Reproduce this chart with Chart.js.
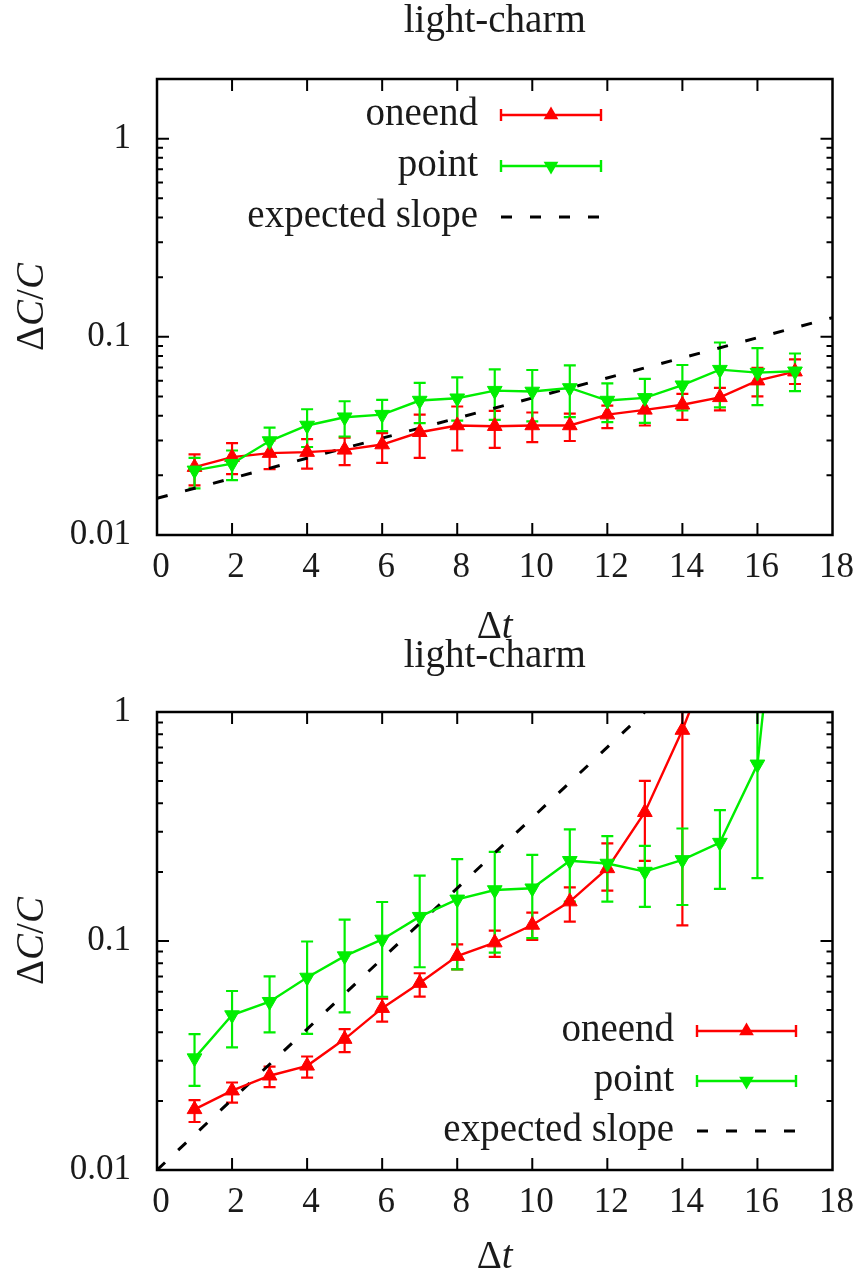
<!DOCTYPE html>
<html>
<head>
<meta charset="utf-8">
<title>light-charm</title>
<script src="https://cdn.jsdelivr.net/npm/chart.js@4.4.0/dist/chart.umd.min.js"></script>
<style>
  body { margin: 0; background: #fff; }
  canvas { display: block; }
</style>
</head>
<body>
<canvas id="chartTop" width="862" height="639"></canvas>
<canvas id="chartBottom" width="862" height="639"></canvas>
<script>
// axes
const xTickValues = [0, 2, 4, 6, 8, 10, 12, 14, 16, 18];
const yTickValues = [0.01, 0.1, 1];
const yTickLabels = ['0.01', '0.1', '1'];

// top panel
const dtTop = [1, 2, 3, 4, 5, 6, 7, 8, 9, 10, 11, 12, 13, 14, 15, 16, 17];
const oneendTop = [0.0220, 0.0247, 0.0259, 0.0262, 0.0269, 0.0286, 0.0330, 0.0357, 0.0354, 0.0357, 0.0357, 0.0405, 0.0428, 0.0454, 0.0495, 0.0601, 0.0667];
const oneendTopHi = [0.0255, 0.0291, 0.0300, 0.0305, 0.0310, 0.0327, 0.0405, 0.0445, 0.0423, 0.0415, 0.0410, 0.0450, 0.0495, 0.0515, 0.0552, 0.0697, 0.0770];
const oneendTopLo = [0.0178, 0.0203, 0.0215, 0.0216, 0.0225, 0.0231, 0.0245, 0.0267, 0.0275, 0.0294, 0.0298, 0.0346, 0.0357, 0.0381, 0.0425, 0.0501, 0.0578];
const pointTop = [0.0212, 0.0229, 0.0298, 0.0357, 0.0393, 0.0405, 0.0477, 0.0490, 0.0535, 0.0530, 0.0552, 0.0477, 0.0492, 0.0570, 0.0683, 0.0660, 0.0670];
const pointTopHi = [0.0245, 0.0267, 0.0348, 0.0431, 0.0473, 0.0481, 0.0585, 0.0625, 0.0685, 0.0680, 0.0718, 0.0582, 0.0613, 0.0721, 0.0936, 0.0877, 0.0824];
const pointTopLo = [0.0172, 0.0189, 0.0255, 0.0278, 0.0314, 0.0334, 0.0367, 0.0378, 0.0381, 0.0374, 0.0393, 0.0371, 0.0368, 0.0425, 0.0441, 0.0452, 0.0532];
const slopeTopX = [0, 18];
const slopeTopY = [0.0153, 0.125];

// bottom panel
const dtBottom = [1, 2, 3, 4, 5, 6, 7, 8, 9, 10, 11, 12, 13, 14, 15, 16, 17];
const oneendBottom = [0.0184, 0.0222, 0.0258, 0.0285, 0.0373, 0.0509, 0.0655, 0.0859, 0.0984, 0.1175, 0.1486, 0.2075, 0.365, 0.834, 2.2];
const oneendBottomHi = [0.0202, 0.0241, 0.0283, 0.0313, 0.0412, 0.0560, 0.0723, 0.0967, 0.111, 0.133, 0.1715, 0.267, 0.50, 2.5, 4.0];
const oneendBottomLo = [0.0162, 0.0197, 0.0230, 0.0253, 0.0327, 0.0445, 0.0572, 0.0752, 0.0853, 0.101, 0.1215, 0.166, 0.224, 0.117, 1.2];
const pointBottom = [0.0308, 0.0475, 0.0543, 0.0693, 0.0859, 0.1016, 0.1277, 0.152, 0.167, 0.170, 0.224, 0.218, 0.201, 0.226, 0.269, 0.591, 20];
const pointBottomHi = [0.0392, 0.0605, 0.070, 0.0995, 0.124, 0.148, 0.193, 0.228, 0.245, 0.2375, 0.307, 0.287, 0.260, 0.310, 0.373, 3.0, 40];
const pointBottomLo = [0.0233, 0.0343, 0.0399, 0.0393, 0.0488, 0.0571, 0.0768, 0.0752, 0.089, 0.103, 0.1485, 0.1485, 0.141, 0.1436, 0.169, 0.188, 10];
const slopeBottomX = [0, 13];
const slopeBottomY = [0.0100, 1.0];

const FONT = "'Liberation Serif', 'DejaVu Serif', serif";
const INK = '#1a1a1a';
const RED = '#ff0000';
const GREEN = '#00ee00';
const CAP = 6;
const MARK = 8.5;

function toXY(xs, ys) {
    return ys.map((v, i) => ({ x: xs[i], y: v }));
}

function triangle(ctx, x, y, r, down) {
    const s = down ? -1 : 1;
    ctx.beginPath();
    ctx.moveTo(x, y - s * r);
    ctx.lineTo(x + r * 0.866, y + s * r * 0.5);
    ctx.lineTo(x - r * 0.866, y + s * r * 0.5);
    ctx.closePath();
    ctx.fill();
}

// text made of upright / italic pieces, centred on (cx, cy)
function drawRuns(ctx, runs, cx, cy, size) {
    const fonts = runs.map(r => (r[1] ? 'italic ' : '') + size + 'px ' + FONT);
    let total = 0;
    const widths = runs.map((r, i) => {
        ctx.font = fonts[i];
        const w = ctx.measureText(r[0]).width;
        total += w;
        return w;
    });
    let x = cx - total / 2;
    ctx.textAlign = 'left';
    ctx.textBaseline = 'middle';
    runs.forEach((r, i) => {
        ctx.font = fonts[i];
        ctx.fillText(r[0], x, cy);
        x += widths[i];
    });
}

const errorBarPlugin = {
    id: 'errorBars',
    beforeDatasetsDraw(chart) {
        const { ctx, chartArea: a, scales: { y } } = chart;
        ctx.save();
        ctx.beginPath();
        ctx.rect(a.left, a.top, a.right - a.left, a.bottom - a.top);
        ctx.clip();
        chart.data.datasets.forEach((ds, i) => {
            if (!ds.errHi) return;
            const meta = chart.getDatasetMeta(i);
            ctx.strokeStyle = ds.borderColor;
            ctx.lineWidth = 2.2;
            ctx.beginPath();
            meta.data.forEach((pt, j) => {
                const yHi = Math.max(y.getPixelForValue(ds.errHi[j]), -1000);
                const yLo = Math.min(y.getPixelForValue(ds.errLo[j]), 3000);
                ctx.moveTo(pt.x, yHi); ctx.lineTo(pt.x, yLo);
                ctx.moveTo(pt.x - CAP, yHi); ctx.lineTo(pt.x + CAP, yHi);
                ctx.moveTo(pt.x - CAP, yLo); ctx.lineTo(pt.x + CAP, yLo);
            });
            ctx.stroke();
        });
        ctx.restore();
    }
};

const framePlugin = {
    id: 'frame',
    afterDatasetsDraw(chart) {
        const { ctx, chartArea: a, scales: { x, y } } = chart;
        ctx.save();
        ctx.strokeStyle = '#000';
        ctx.lineWidth = 2;
        ctx.beginPath();
        xTickValues.forEach(v => {
            const px = x.getPixelForValue(v);
            if (px <= a.left + 1 || px >= a.right - 1) return;
            ctx.moveTo(px, a.bottom); ctx.lineTo(px, a.bottom - 12);
            ctx.moveTo(px, a.top); ctx.lineTo(px, a.top + 12);
        });
        yTickValues.forEach(d => {
            for (let k = 1; k < 10; k++) {
                const py = y.getPixelForValue(d * k);
                if (py <= a.top + 1 || py >= a.bottom - 1) continue;
                const len = k === 1 ? 12 : 6;
                ctx.moveTo(a.left, py); ctx.lineTo(a.left + len, py);
                ctx.moveTo(a.right, py); ctx.lineTo(a.right - len, py);
            }
        });
        ctx.stroke();
        ctx.lineWidth = 2.5;
        ctx.strokeRect(a.left, a.top, a.right - a.left, a.bottom - a.top);
        ctx.restore();
    }
};

const keyPlugin = {
    id: 'key',
    afterDraw(chart, args, opts) {
        const ctx = chart.ctx;
        ctx.save();
        chart.data.datasets.forEach((ds, i) => {
            const yy = opts.rows[i];
            ctx.fillStyle = INK;
            ctx.font = opts.size + 'px ' + FONT;
            ctx.textAlign = 'right';
            ctx.textBaseline = 'middle';
            ctx.fillText(ds.label, opts.textRight, yy);
            ctx.strokeStyle = ds.borderColor;
            ctx.lineWidth = ds.borderWidth;
            if (ds.borderDash) ctx.setLineDash(ds.borderDash);
            ctx.beginPath();
            ctx.moveTo(opts.x0, yy); ctx.lineTo(opts.x1, yy);
            if (ds.errHi) {
                ctx.moveTo(opts.x0, yy - CAP); ctx.lineTo(opts.x0, yy + CAP);
                ctx.moveTo(opts.x1, yy - CAP); ctx.lineTo(opts.x1, yy + CAP);
            }
            ctx.stroke();
            ctx.setLineDash([]);
            if (ds.errHi) {
                ctx.fillStyle = ds.borderColor;
                triangle(ctx, (opts.x0 + opts.x1) / 2, yy, MARK, ds.pointRotation === 180);
            }
        });
        ctx.restore();
    }
};

const captionPlugin = {
    id: 'captions',
    afterDraw(chart, args, opts) {
        const { ctx, chartArea: a } = chart;
        const cx = (a.left + a.right) / 2;
        ctx.save();
        ctx.fillStyle = INK;
        drawRuns(ctx, [['light-charm', false]], cx, opts.titleY, opts.size);
        drawRuns(ctx, [['\u0394', false], ['t', true]], cx, opts.xTitleY, opts.size);
        ctx.translate(opts.yTitleX, (a.top + a.bottom) / 2);
        ctx.rotate(-Math.PI / 2);
        drawRuns(ctx, [['\u0394', false], ['C', true], ['/', false], ['C', true]], 0, 0, opts.size);
        ctx.restore();
    }
};

function makeChart(canvas, cfg) {
    return new Chart(canvas.getContext('2d'), {
        type: 'line',
        data: {
            datasets: [{
                label: 'oneend',
                data: toXY(cfg.dt, cfg.oneend),
                errHi: cfg.oneendHi,
                errLo: cfg.oneendLo,
                borderColor: RED,
                pointBackgroundColor: RED,
                pointBorderColor: RED,
                pointStyle: 'triangle',
                pointRadius: MARK,
                pointBorderWidth: 1,
                borderWidth: 2.4,
                tension: 0,
                order: 1
            }, {
                label: 'point',
                data: toXY(cfg.dt, cfg.point),
                errHi: cfg.pointHi,
                errLo: cfg.pointLo,
                borderColor: GREEN,
                pointBackgroundColor: GREEN,
                pointBorderColor: GREEN,
                pointStyle: 'triangle',
                pointRotation: 180,
                pointRadius: MARK,
                pointBorderWidth: 1,
                borderWidth: 2.4,
                tension: 0,
                order: 0
            }, {
                label: 'expected slope',
                data: toXY(cfg.slopeX, cfg.slopeY),
                borderColor: '#000',
                borderDash: [11, 18],
                borderWidth: 3,
                pointRadius: 0,
                order: 2
            }]
        },
        options: {
            responsive: false,
            animation: false,
            events: [],
            layout: { padding: { top: cfg.top, right: 26, bottom: 0, left: 0 } },
            plugins: {
                legend: { display: false },
                tooltip: { enabled: false },
                title: { display: false },
                key: cfg.key,
                captions: cfg.captions
            },
            scales: {
                x: {
                    type: 'linear',
                    min: 0,
                    max: 18,
                    ticks: { stepSize: 2, color: INK, font: { family: FONT, size: 35 }, padding: 12, labelOffset: 4, maxRotation: 0 },
                    grid: { display: false, drawTicks: false },
                    border: { display: false },
                    afterFit: s => { s.height = cfg.xHeight; }
                },
                y: {
                    type: 'logarithmic',
                    min: 0.01,
                    max: cfg.yMax,
                    afterBuildTicks: s => { s.ticks = yTickValues.map(v => ({ value: v })); },
                    ticks: {
                        color: INK,
                        font: { family: FONT, size: 35 },
                        padding: 26,
                        callback: v => yTickLabels[yTickValues.indexOf(v)]
                    },
                    grid: { display: false, drawTicks: false },
                    border: { display: false },
                    afterFit: s => { s.width = 157; }
                }
            }
        },
        plugins: [errorBarPlugin, framePlugin, keyPlugin, captionPlugin]
    });
}

makeChart(document.getElementById('chartTop'), {
    dt: dtTop,
    oneend: oneendTop, oneendHi: oneendTopHi, oneendLo: oneendTopLo,
    point: pointTop, pointHi: pointTopHi, pointLo: pointTopLo,
    slopeX: slopeTopX, slopeY: slopeTopY,
    top: 79, xHeight: 104, yMax: 2,
    key: { textRight: 478, x0: 501, x1: 601, rows: [115, 166, 217], size: 39 },
    captions: { titleY: 22, xTitleY: 628, yTitleX: 33, size: 39 }
});

makeChart(document.getElementById('chartBottom'), {
    dt: dtBottom,
    oneend: oneendBottom, oneendHi: oneendBottomHi, oneendLo: oneendBottomLo,
    point: pointBottom, pointHi: pointBottomHi, pointLo: pointBottomLo,
    slopeX: slopeBottomX, slopeY: slopeBottomY,
    top: 73, xHeight: 108, yMax: 1,
    key: { textRight: 674, x0: 697, x1: 796, rows: [392, 442, 492], size: 39 },
    captions: { titleY: 18, xTitleY: 619, yTitleX: 33, size: 39 }
});
</script>
</body>
</html>
